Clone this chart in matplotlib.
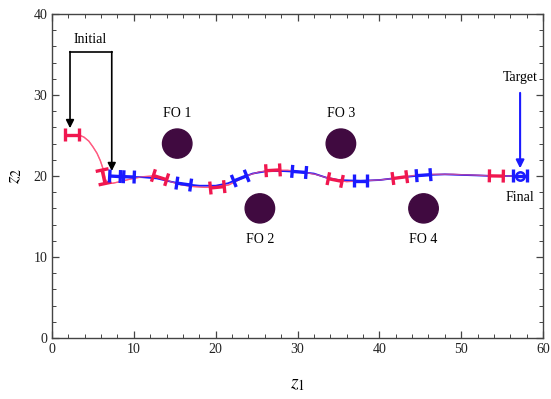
import numpy as np
import matplotlib
matplotlib.use("Agg")
import matplotlib.pyplot as plt
from matplotlib.ticker import MultipleLocator

plt.rcParams["mathtext.fontset"] = "stix"

# ---------------- data ----------------
red_path_x = [2.4, 3.2, 3.9, 4.5, 5.0, 5.5, 5.9, 6.2, 6.4, 6.5, 6.8, 7.4, 8.3, 9.5, 11.0, 12.3, 13.2,
              14.5, 15.8, 17.2, 18.6, 20.2, 21.6, 22.8, 24.0, 25.3, 27.0, 28.8, 30.5, 32.2,
              33.5, 34.6, 36.0, 37.8, 40.0, 42.5, 44.5, 46.5, 49.0, 51.5, 54.3, 57.2]
red_path_y = [25.1, 25.1, 24.8, 24.3, 23.6, 22.8, 21.9, 21.0, 20.2, 19.6, 19.2, 19.1, 19.3, 19.6, 19.9, 20.0, 19.8,
              19.3, 18.9, 18.7, 18.6, 18.6, 18.9, 19.5, 20.1, 20.5, 20.7, 20.7, 20.5, 20.2,
              19.8, 19.5, 19.3, 19.4, 19.5, 19.8, 20.1, 20.2, 20.2, 20.1, 20.0, 20.0]

blue_path_x = [7.3, 8.2, 9.2, 11.0, 12.8, 14.5, 16.1, 18.0, 20.0, 21.5, 23.0, 24.5, 26.3, 28.3,
               30.2, 32.0, 33.5, 35.0, 37.7, 40.0, 42.5, 45.4, 48.0, 51.0, 54.0, 57.2]
blue_path_y = [20.0, 19.95, 19.9, 19.85, 19.7, 19.3, 19.0, 18.8, 18.8, 19.1, 19.7, 20.3, 20.6, 20.6,
               20.5, 20.3, 19.8, 19.5, 19.4, 19.5, 19.8, 20.1, 20.2, 20.1, 20.0, 20.0]

red_marker_x = [2.4, 6.3, 13.2, 20.2, 27.0, 34.6, 42.5, 54.3]
red_marker_y = [25.1, 19.9, 19.8, 18.6, 20.7, 19.5, 19.8, 20.0]

blue_marker_x = [7.9, 9.2, 16.1, 23.0, 30.2, 37.7, 45.4, 57.2]
blue_marker_y = [19.95, 19.9, 19.0, 19.7, 20.5, 19.4, 20.1, 20.0]

obstacle_x = [15.3, 25.4, 35.3, 45.4]
obstacle_y = [24.0, 16.0, 24.0, 16.0]
obstacle_r = 1.8
obstacle_labels = ["FO 1", "FO 2", "FO 3", "FO 4"]
obstacle_label_y = [27.7, 12.2, 27.7, 12.2]

target_x, target_y = 57.2, 20.0

RED = "#f0174f"
RED_LINE = "#ff5a80"
BLUE = "#1a1aff"
PURPLE = "#400a40"

fig = plt.figure(figsize=(5.51, 3.99), dpi=100)
ax = fig.add_axes([0.0944, 0.1529, 0.8911, 0.8121])
ax.set_xlim(0, 60)
ax.set_ylim(0, 40)

# obstacles
for ox, oy, lab, ly in zip(obstacle_x, obstacle_y, obstacle_labels, obstacle_label_y):
    ax.add_patch(plt.Circle((ox, oy), obstacle_r, color=PURPLE, zorder=2))
    ax.text(ox, ly, lab, ha="center", va="center", fontsize=10,
            family="Liberation Serif", color="black")

# paths
ax.plot(red_path_x, red_path_y, color=RED_LINE, lw=1.0, zorder=3)
ax.plot(blue_path_x, blue_path_y, color=BLUE, lw=1.3, zorder=3)
ax.plot(red_path_x, red_path_y, color=RED_LINE, lw=0.8, alpha=0.7, zorder=4)


def draw_h(px, py, mx, my, color):
    px = np.asarray(px); py = np.asarray(py)
    for x0, y0 in zip(mx, my):
        d = (px - x0) ** 2 + (py - y0) ** 2
        i = int(np.argmin(d))
        i0 = max(i - 1, 0); i1 = min(i + 1, len(px) - 1)
        dx = px[i1] - px[i0]; dy = py[i1] - py[i0]
        n = np.hypot(dx, dy)
        ux, uy = dx / n, dy / n
        vx, vy = -uy, ux
        hl, cl = 0.85, 0.8
        ax.plot([x0 - hl * ux, x0 + hl * ux], [y0 - hl * uy, y0 + hl * uy],
                color=color, lw=2.4, solid_capstyle="butt", zorder=5)
        for s in (-1, 1):
            cx, cy = x0 + s * hl * ux, y0 + s * hl * uy
            ax.plot([cx - cl * vx, cx + cl * vx], [cy - cl * vy, cy + cl * vy],
                    color=color, lw=2.4, solid_capstyle="butt", zorder=5)


draw_h(red_path_x, red_path_y, red_marker_x, red_marker_y, RED)
draw_h(blue_path_x, blue_path_y, blue_marker_x, blue_marker_y, BLUE)

# target
ax.plot([target_x], [target_y], marker="o", ms=6, mfc="none", mec=BLUE, mew=1.8, zorder=6)
ax.annotate("", xy=(target_x, 20.6), xytext=(target_x, 30.6),
            arrowprops=dict(arrowstyle="-|>", color=BLUE, lw=1.5, mutation_scale=12))
ax.text(target_x, 32.2, "Target", ha="center", va="center", fontsize=10,
        family="Liberation Serif")
ax.text(target_x, 17.3, "Final", ha="center", va="center", fontsize=10,
        family="Liberation Serif")

# Initial bracket
ax.text(4.6, 36.8, "Initial", ha="center", va="center", fontsize=10,
        family="Liberation Serif")
ax.plot([2.2, 7.3], [35.3, 35.3], color="black", lw=1.2)
ax.annotate("", xy=(2.2, 25.9), xytext=(2.2, 35.35),
            arrowprops=dict(arrowstyle="-|>", color="black", lw=1.2, mutation_scale=12,
                            shrinkA=0, shrinkB=0))
ax.annotate("", xy=(7.3, 20.6), xytext=(7.3, 35.35),
            arrowprops=dict(arrowstyle="-|>", color="black", lw=1.2, mutation_scale=12,
                            shrinkA=0, shrinkB=0))

# axes styling
ax.xaxis.set_major_locator(MultipleLocator(10))
ax.xaxis.set_minor_locator(MultipleLocator(2))
ax.yaxis.set_major_locator(MultipleLocator(10))
ax.yaxis.set_minor_locator(MultipleLocator(2))
ax.tick_params(which="both", direction="in", top=True, right=True, color="#444444",
               labelsize=10, labelcolor="#222222")
ax.tick_params(which="major", length=5, width=0.9)
ax.tick_params(which="minor", length=3, width=0.7)
for lab in ax.get_xticklabels() + ax.get_yticklabels():
    lab.set_family("Liberation Serif")
for s in ax.spines.values():
    s.set_color("#444444")
    s.set_linewidth(1.0)

ax.set_xlabel(r"$z_1$", fontsize=14)
ax.set_ylabel(r"$z_2$", fontsize=14)
ax.xaxis.set_label_coords(0.5, -0.112)
ax.yaxis.set_label_coords(-0.058, 0.5)

fig.savefig("out.png", dpi=100)
